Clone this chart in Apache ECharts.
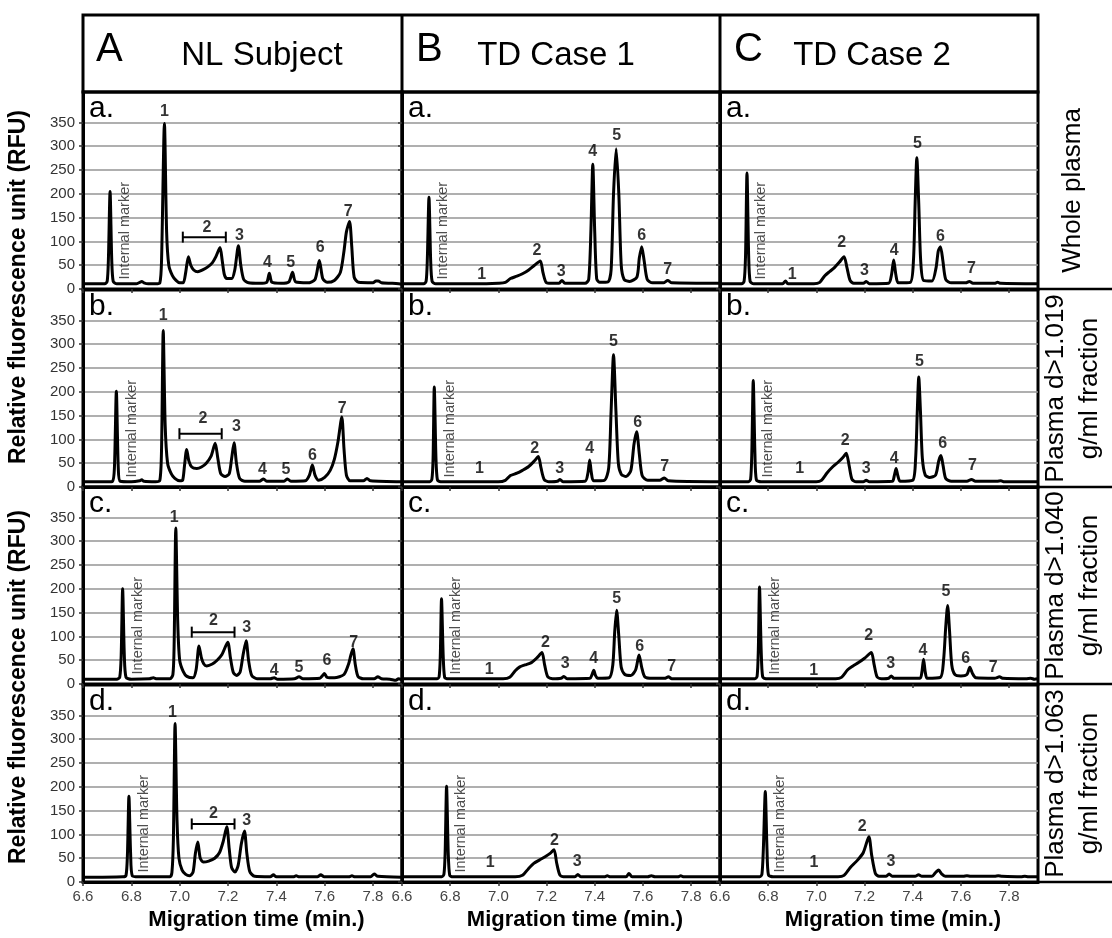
<!DOCTYPE html>
<html><head><meta charset="utf-8">
<script src="https://cdn.jsdelivr.net/npm/echarts@6/dist/echarts.min.js"></script>
<style>html,body{margin:0;padding:0;background:#fff}#c{width:1112px;height:938px}</style>
</head><body><div id="c"></div><script>
const FONT = '"Liberation Sans", Arial, sans-serif';
const xTicks = [6.6, 6.8, 7.0, 7.2, 7.4, 7.6, 7.8];
const yTicks = [0, 50, 100, 150, 200, 250, 300, 350];
const columnLetters = ['A', 'B', 'C'];
const columnNames = ['NL Subject', 'TD Case 1', 'TD Case 2'];
const rowLetters = ['a.', 'b.', 'c.', 'd.'];
const rowTitles = ['Whole plasma', 'Plasma d>1.019\ng/ml fraction', 'Plasma d>1.040\ng/ml fraction', 'Plasma d>1.063\ng/ml fraction'];
const yAxisTitle = 'Relative fluorescence unit (RFU)';
const xAxisTitle = 'Migration time (min.)';
const markerText = 'Internal marker';

// ---- NL Subject traces [time, RFU] ----
const nl_a = [[6.60,11],[6.65,11],[6.69,11],[6.700,16],[6.705,60],[6.712,205],[6.719,60],[6.725,16],[6.74,11],[6.82,11],[6.835,14],[6.843,16],[6.852,13],[6.87,11],[6.90,11],[6.918,13],[6.925,60],[6.937,348],[6.946,120],[6.955,50],[6.97,28],[6.985,18],[7.00,13],[7.015,13],[7.025,35],[7.036,68],[7.046,50],[7.058,40],[7.075,36],[7.095,40],[7.115,46],[7.135,55],[7.150,68],[7.167,87],[7.176,60],[7.185,30],[7.195,22],[7.215,22],[7.228,40],[7.243,91],[7.253,50],[7.265,20],[7.285,13],[7.33,12],[7.36,14],[7.371,33],[7.382,14],[7.42,12],[7.452,15],[7.467,35],[7.48,15],[7.53,13],[7.56,20],[7.578,60],[7.592,22],[7.61,14],[7.64,18],[7.665,35],[7.680,80],[7.690,120],[7.703,142],[7.712,90],[7.722,25],[7.74,14],[7.80,13],[7.812,17],[7.822,17],[7.835,13],[7.88,12],[7.92,10]];
const nl_b = [[6.60,11],[6.70,11],[6.722,12],[6.73,40],[6.738,201],[6.746,40],[6.754,12],[6.80,11],[6.835,13],[6.843,15],[6.852,12],[6.90,11],[6.918,14],[6.925,80],[6.932,329],[6.94,130],[6.95,50],[6.965,28],[6.98,18],[7.00,13],[7.012,14],[7.020,45],[7.029,79],[7.038,55],[7.05,42],[7.071,39],[7.09,42],[7.11,50],[7.13,65],[7.147,92],[7.158,60],[7.17,28],[7.188,22],[7.205,28],[7.215,60],[7.225,93],[7.235,50],[7.248,18],[7.27,12],[7.33,12],[7.347,17],[7.36,12],[7.43,12],[7.446,17],[7.46,12],[7.52,13],[7.537,25],[7.549,46],[7.56,25],[7.575,14],[7.60,20],[7.623,35],[7.64,58],[7.655,95],[7.671,147],[7.68,80],[7.69,25],[7.705,13],[7.76,13],[7.775,18],[7.79,13],[7.92,11]];
const nl_c = [[6.60,10],[6.74,10],[6.752,14],[6.758,60],[6.764,200],[6.771,60],[6.778,14],[6.80,10],[6.875,11],[6.891,13],[6.905,11],[6.96,11],[6.972,20],[6.977,80],[6.984,328],[6.992,130],[7.00,50],[7.015,26],[7.03,16],[7.055,13],[7.068,30],[7.08,80],[7.09,55],[7.10,42],[7.112,38],[7.135,42],[7.155,50],[7.175,62],[7.199,88],[7.21,55],[7.222,24],[7.236,18],[7.25,25],[7.262,60],[7.275,91],[7.285,50],[7.298,18],[7.32,11],[7.375,11],[7.391,13],[7.405,10],[7.475,11],[7.494,15],[7.51,11],[7.58,12],[7.59,17],[7.599,22],[7.61,14],[7.64,13],[7.68,20],[7.699,42],[7.708,60],[7.717,74],[7.727,40],[7.738,16],[7.76,11],[7.805,11],[7.82,15],[7.835,11],[7.87,10],[7.895,8],[7.905,11],[7.92,9]];
const nl_d = [[6.60,10],[6.765,11],[6.778,14],[6.784,60],[6.790,180],[6.797,60],[6.804,13],[6.83,11],[6.96,11],[6.968,20],[6.974,90],[6.981,333],[6.989,130],[6.997,50],[7.01,25],[7.025,16],[7.04,13],[7.055,20],[7.065,60],[7.075,84],[7.085,50],[7.098,42],[7.12,44],[7.145,50],[7.165,62],[7.18,85],[7.195,116],[7.205,70],[7.215,30],[7.229,21],[7.242,35],[7.255,80],[7.268,107],[7.278,60],[7.29,22],[7.31,12],[7.375,11],[7.388,15],[7.40,11],[7.47,11],[7.482,13],[7.495,11],[7.57,11],[7.584,15],[7.598,11],[7.70,11],[7.713,13],[7.725,11],[7.79,11],[7.805,17],[7.82,12],[7.92,10]];

// ---- TD Case 1 traces ----
const td1_a = [[6.60,11],[6.69,11],[6.70,16],[6.705,60],[6.712,193],[6.719,60],[6.725,16],[6.74,11],[6.95,11],[7.00,12],[7.029,14],[7.05,22],[7.077,27],[7.10,32],[7.126,40],[7.15,50],[7.174,59],[7.185,35],[7.198,14],[7.22,12],[7.252,12],[7.264,18],[7.276,12],[7.36,12],[7.375,20],[7.384,120],[7.392,262],[7.40,120],[7.408,22],[7.42,14],[7.455,15],[7.468,40],[7.478,200],[7.489,295],[7.50,200],[7.51,50],[7.522,20],[7.545,16],[7.575,25],[7.585,65],[7.595,89],[7.605,60],[7.618,20],[7.64,13],[7.685,13],[7.703,18],[7.72,13],[7.92,12]];
const td1_b = [[6.60,11],[6.715,11],[6.724,16],[6.729,60],[6.734,210],[6.741,60],[6.747,15],[6.76,11],[7.00,11],[7.029,14],[7.05,24],[7.077,29],[7.10,35],[7.126,43],[7.15,55],[7.166,64],[7.177,40],[7.19,16],[7.21,11],[7.245,12],[7.256,16],[7.268,11],[7.36,12],[7.372,30],[7.379,57],[7.386,30],[7.395,13],[7.44,14],[7.458,40],[7.468,160],[7.478,278],[7.488,160],[7.498,50],[7.51,27],[7.53,22],[7.55,35],[7.563,90],[7.574,116],[7.585,70],[7.597,24],[7.62,14],[7.67,14],[7.689,19],[7.705,13],[7.92,11]];
const td1_c = [[6.60,11],[6.745,11],[6.754,15],[6.759,60],[6.764,179],[6.771,60],[6.777,14],[6.79,11],[7.02,11],[7.047,14],[7.07,28],[7.089,36],[7.11,40],[7.137,45],[7.16,55],[7.181,66],[7.192,40],[7.205,15],[7.225,11],[7.26,12],[7.272,16],[7.285,11],[7.38,12],[7.389,20],[7.396,29],[7.403,18],[7.412,12],[7.46,13],[7.475,40],[7.483,110],[7.491,155],[7.50,100],[7.51,35],[7.525,20],[7.55,18],[7.57,30],[7.584,61],[7.595,35],[7.608,15],[7.64,12],[7.69,12],[7.706,15],[7.72,11],[7.92,11]];
const td1_d = [[6.60,11],[6.765,11],[6.774,16],[6.779,60],[6.785,201],[6.792,60],[6.798,14],[6.81,11],[7.07,11],[7.10,14],[7.125,28],[7.147,39],[7.17,46],[7.194,53],[7.215,60],[7.231,68],[7.242,40],[7.255,15],[7.27,11],[7.318,11],[7.33,16],[7.342,11],[7.44,11],[7.452,13],[7.465,11],[7.53,11],[7.542,18],[7.555,11],[7.62,11],[7.635,13],[7.65,11],[7.745,11],[7.757,13],[7.77,11],[7.92,11]];

// ---- TD Case 2 traces ----
const td2_a = [[6.60,11],[6.69,11],[6.70,16],[6.706,70],[6.712,244],[6.719,70],[6.725,16],[6.74,11],[6.86,11],[6.872,17],[6.882,11],[6.99,11],[7.014,14],[7.035,28],[7.056,37],[7.075,45],[7.095,56],[7.115,68],[7.127,45],[7.14,18],[7.155,12],[7.195,12],[7.207,16],[7.22,11],[7.30,12],[7.312,30],[7.321,61],[7.33,30],[7.34,13],[7.39,14],[7.403,60],[7.41,180],[7.417,276],[7.425,180],[7.433,60],[7.445,18],[7.48,17],[7.497,45],[7.506,80],[7.515,89],[7.525,60],[7.537,20],[7.56,13],[7.62,13],[7.635,16],[7.65,12],[7.74,12],[7.752,14],[7.765,12],[7.92,11]];
const td2_b = [[6.60,11],[6.718,11],[6.727,16],[6.732,70],[6.738,224],[6.745,70],[6.751,15],[6.77,11],[7.00,11],[7.021,14],[7.045,30],[7.069,43],[7.09,52],[7.11,62],[7.124,71],[7.136,45],[7.148,16],[7.165,11],[7.195,11],[7.207,14],[7.22,11],[7.315,12],[7.324,25],[7.331,39],[7.338,24],[7.348,12],[7.40,14],[7.412,60],[7.419,160],[7.425,231],[7.432,160],[7.44,60],[7.452,25],[7.47,20],[7.495,25],[7.508,55],[7.517,66],[7.526,45],[7.537,18],[7.56,12],[7.625,12],[7.644,16],[7.66,12],[7.75,12],[7.766,13],[7.78,11],[7.92,11]];
const td2_c = [[6.60,11],[6.745,11],[6.754,16],[6.759,70],[6.764,204],[6.771,70],[6.777,15],[6.79,11],[7.08,11],[7.104,14],[7.13,30],[7.152,38],[7.175,45],[7.20,54],[7.228,66],[7.24,40],[7.252,15],[7.27,11],[7.30,12],[7.311,17],[7.322,12],[7.43,12],[7.438,25],[7.445,52],[7.452,25],[7.46,12],[7.515,14],[7.528,50],[7.537,120],[7.545,165],[7.553,110],[7.562,40],[7.575,20],[7.60,17],[7.625,20],[7.637,35],[7.648,22],[7.662,13],[7.74,12],[7.76,15],[7.775,12],[7.87,11],[7.89,12],[7.905,10],[7.92,11]];
const td2_d = [[6.60,11],[6.765,11],[6.774,16],[6.78,70],[6.788,190],[6.795,70],[6.801,15],[6.82,11],[7.09,11],[7.115,14],[7.14,30],[7.171,46],[7.195,62],[7.218,95],[7.23,55],[7.245,18],[7.26,12],[7.29,12],[7.302,17],[7.315,12],[7.41,12],[7.424,15],[7.438,12],[7.48,12],[7.495,20],[7.508,25],[7.52,17],[7.535,12],[7.61,12],[7.625,13],[7.64,12],[7.74,12],[7.755,13],[7.77,12],[7.85,11],[7.865,12],[7.88,11],[7.92,11]];

// ---- peak number labels [time, RFU, text] ----
const nl_a_lbl = [[6.937,373,'1'],[7.113,129,'2'],[7.247,112,'3'],[7.363,55,'4'],[7.459,55,'5'],[7.581,86,'6'],[7.697,162,'7']];
const nl_b_lbl = [[6.932,360,'1'],[7.096,144,'2'],[7.235,126,'3'],[7.343,36,'4'],[7.44,36,'5'],[7.549,67,'6'],[7.673,165,'7']];
const nl_c_lbl = [[6.977,349,'1'],[7.14,133,'2'],[7.277,119,'3'],[7.391,28,'4'],[7.494,35,'5'],[7.609,49,'6'],[7.72,88,'7']];
const nl_d_lbl = [[6.97,357,'1'],[7.14,144,'2'],[7.277,130,'3']];
const td1_a_lbl = [[6.931,30,'1'],[7.16,81,'2'],[7.261,37,'3'],[7.392,288,'4'],[7.491,323,'5'],[7.595,112,'6'],[7.703,40,'7']];
const td1_b_lbl = [[6.921,38,'1'],[7.151,81,'2'],[7.255,38,'3'],[7.379,81,'4'],[7.478,305,'5'],[7.578,136,'6'],[7.69,43,'7']];
const td1_c_lbl = [[6.962,31,'1'],[7.195,88,'2'],[7.277,43,'3'],[7.396,54,'4'],[7.491,179,'5'],[7.587,78,'6'],[7.72,36,'7']];
const td1_d_lbl = [[6.966,40,'1'],[7.233,86,'2'],[7.327,42,'3']];
const td2_a_lbl = [[6.9,31,'1'],[7.105,98,'2'],[7.2,38,'3'],[7.323,80,'4'],[7.42,306,'5'],[7.515,110,'6'],[7.644,42,'7']];
const td2_b_lbl = [[6.931,38,'1'],[7.12,98,'2'],[7.207,39,'3'],[7.323,59,'4'],[7.428,264,'5'],[7.524,92,'6'],[7.648,44,'7']];
const td2_c_lbl = [[6.989,29,'1'],[7.217,102,'2'],[7.309,42,'3'],[7.442,71,'4'],[7.538,195,'5'],[7.62,54,'6'],[7.734,35,'7']];
const td2_d_lbl = [[6.99,40,'1'],[7.19,116,'2'],[7.31,42,'3']];

// "Internal marker" label anchor [time, RFU] per panel
const nl_marker = [[6.774,20],[6.802,20],[6.829,20],[6.853,20]];
const td1_marker = [[6.771,20],[6.799,20],[6.826,20],[6.844,20]];
const td2_marker = [[6.772,20],[6.800,20],[6.828,20],[6.847,20]];

// peak-2 range brackets in NL panels [start, end, RFU]
const nl_brackets = [[7.013,7.191,109],[6.999,7.174,112],[7.05,7.227,109],[7.05,7.227,122]];

// ---------- layout ----------
const colLeft = [83, 402, 720];
const colWidth = [319, 318, 318];
const rowTop = [92, 290, 487, 685];
const rowHeight = 197;
const yMax = 414;
const xMin = 6.6, xMax = 7.92;

const traces = [[nl_a, nl_b, nl_c, nl_d],[td1_a, td1_b, td1_c, td1_d],[td2_a, td2_b, td2_c, td2_d]];
const labels = [[nl_a_lbl, nl_b_lbl, nl_c_lbl, nl_d_lbl],[td1_a_lbl, td1_b_lbl, td1_c_lbl, td1_d_lbl],[td2_a_lbl, td2_b_lbl, td2_c_lbl, td2_d_lbl]];
const markers = [nl_marker, td1_marker, td2_marker];

const grids = [], xAxes = [], yAxes = [], series = [], graphics = [];
let idx = 0;
for (let c = 0; c < 3; c++) {
  for (let r = 0; r < 4; r++) {
    grids.push({ left: colLeft[c], top: rowTop[r], width: colWidth[c], height: rowHeight, show: true, borderColor: '#000', borderWidth: 3, backgroundColor: 'transparent' });
    xAxes.push({
      type: 'value', gridIndex: idx, min: xMin, max: xMax, interval: 0.2,
      axisLine: { show: true, onZero: false, lineStyle: { color: '#000', width: 3 } },
      axisTick: { show: true, length: 4, customValues: xTicks, lineStyle: { color: '#333', width: 1.5 } },
      axisLabel: { show: r === 3, customValues: xTicks, color: '#444', fontSize: 15, fontFamily: FONT, margin: 7, formatter: v => v.toFixed(1) },
      splitLine: { show: false }
    });
    yAxes.push({
      type: 'value', gridIndex: idx, min: 0, max: yMax, interval: 50,
      axisLine: { show: true, lineStyle: { color: '#000', width: 3 } },
      axisTick: { show: true, length: 4, customValues: yTicks, lineStyle: { color: '#333', width: 1.5 } },
      axisLabel: { show: c === 0, customValues: yTicks, color: '#333', fontSize: 15, fontFamily: FONT, margin: 8 },
      splitLine: { show: true, lineStyle: { color: '#959595', width: 1.5 } }
    });
    series.push({
      type: 'line', xAxisIndex: idx, yAxisIndex: idx, data: traces[c][r], showSymbol: false, symbol: 'none',
      smooth: 0.25, lineStyle: { color: '#000', width: 3, join: 'round' }, z: 5, silent: true, animation: false
    });
    series.push({
      type: 'scatter', xAxisIndex: idx, yAxisIndex: idx, data: labels[c][r], symbolSize: 1,
      itemStyle: { color: 'rgba(0,0,0,0)' }, silent: true, animation: false, z: 6,
      label: { show: true, position: 'inside', formatter: p => p.data[2], color: '#000', fontSize: 16, fontWeight: 'bold', fontFamily: FONT }
    });
    series.push({
      type: 'scatter', xAxisIndex: idx, yAxisIndex: idx, data: [markers[c][r]], symbolSize: 1,
      itemStyle: { color: 'rgba(0,0,0,0)' }, silent: true, animation: false, z: 6,
      label: { show: true, position: 'inside', formatter: markerText, rotate: 90, align: 'left', verticalAlign: 'middle', color: '#222', fontSize: 14.5, fontFamily: FONT }
    });
    if (c === 0) {
      const b = nl_brackets[r];
      series.push({
        type: 'line', xAxisIndex: idx, yAxisIndex: idx, data: [[b[0], b[2]], [b[1], b[2]]],
        symbol: 'rect', symbolSize: [2, 11], showSymbol: true, itemStyle: { color: '#000' },
        lineStyle: { color: '#000', width: 2 }, silent: true, animation: false, z: 6
      });
    }
    graphics.push({ type: 'text', x: colLeft[c] + 6, y: rowTop[r] + 2, style: { text: rowLetters[r], fill: '#000', fontSize: 30, fontFamily: FONT, align: 'left', verticalAlign: 'top' }, z: 100 });
    idx++;
  }
}

// header frame
graphics.push({ type: 'rect', shape: { x: 83, y: 15, width: 955, height: 77 }, style: { fill: 'none', stroke: '#000', lineWidth: 3 }, z: 50 });
graphics.push({ type: 'line', shape: { x1: 402, y1: 15, x2: 402, y2: 92 }, style: { stroke: '#000', lineWidth: 3 }, z: 50 });
graphics.push({ type: 'line', shape: { x1: 720, y1: 15, x2: 720, y2: 92 }, style: { stroke: '#000', lineWidth: 3 }, z: 50 });
const headerLetterX = [96, 416, 734];
const headerNameX = [262, 556, 872];
for (let c = 0; c < 3; c++) {
  graphics.push({ type: 'text', x: headerLetterX[c], y: 50, style: { text: columnLetters[c], fill: '#000', fontSize: 40, fontFamily: FONT, align: 'left', verticalAlign: 'middle' }, z: 100 });
  graphics.push({ type: 'text', x: headerNameX[c], y: 56, style: { text: columnNames[c], fill: '#000', fontSize: 33, fontFamily: FONT, align: 'center', verticalAlign: 'middle' }, z: 100 });
  graphics.push({ type: 'text', x: (colLeft[c] + colLeft[c] + colWidth[c]) / 2 + 14, y: 920, style: { text: xAxisTitle, fill: '#000', fontSize: 22, fontWeight: 'bold', fontFamily: FONT, align: 'center', verticalAlign: 'middle' }, z: 100 });
}
// right column
for (let r = 0; r < 4; r++) {
  graphics.push({ type: 'line', shape: { x1: 1038, y1: rowTop[r] + rowHeight, x2: 1112, y2: rowTop[r] + rowHeight }, style: { stroke: '#000', lineWidth: 2.5 }, z: 50 });
  graphics.push({ type: 'text', x: 1073, y: rowTop[r] + rowHeight / 2, rotation: Math.PI / 2, style: { text: rowTitles[r], fill: '#000', fontSize: 26, lineHeight: 34, fontFamily: FONT, align: 'center', verticalAlign: 'middle' }, z: 100 });
}
// y-axis titles
graphics.push({ type: 'text', x: 19, y: 287, rotation: Math.PI / 2, style: { text: yAxisTitle, fill: '#000', fontSize: 23, fontWeight: 'bold', fontFamily: FONT, align: 'center', verticalAlign: 'middle' }, z: 100 });
graphics.push({ type: 'text', x: 19, y: 687, rotation: Math.PI / 2, style: { text: yAxisTitle, fill: '#000', fontSize: 23, fontWeight: 'bold', fontFamily: FONT, align: 'center', verticalAlign: 'middle' }, z: 100 });

const chart = echarts.init(document.getElementById('c'), null, { renderer: 'canvas' });
chart.setOption({
  animation: false,
  backgroundColor: '#fff',
  grid: grids, xAxis: xAxes, yAxis: yAxes, series: series,
  graphic: { elements: graphics }
});
</script></body></html>
